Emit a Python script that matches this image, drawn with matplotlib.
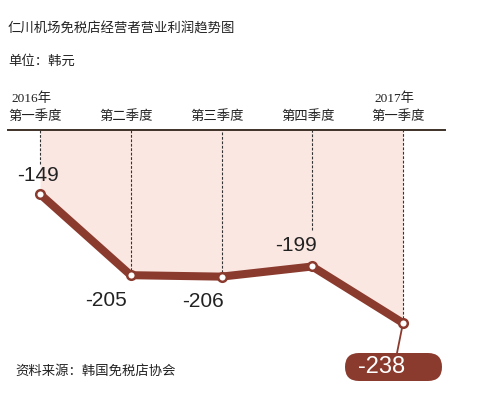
import matplotlib
matplotlib.use("Agg")
import matplotlib.pyplot as plt
from matplotlib.patches import FancyBboxPatch

plt.rcParams['font.family'] = ['Noto Sans CJK SC', 'DejaVu Sans']

# 数据
quarters = ["第一季度", "第二季度", "第三季度", "第四季度", "第一季度"]
years = {0: "2016年", 4: "2017年"}
profit = [-149, -205, -206, -199, -238]
value_labels = ["-149", "-205", "-206", "-199", "-238"]

line_color = "#8b3a2e"
fill_color = "#fbe7e1"
text_color = "#222222"

fig = plt.figure(figsize=(4.97, 3.94), dpi=100)
ax = fig.add_axes([0, 0, 1, 264 / 394])
xs = list(range(len(profit)))
ax.set_xlim(-0.4408, 5.0358)
ax.set_ylim(-287, -104.8)
ax.axis("off")

top = ax.get_ylim()[1]

# 浅色填充区域
ax.fill_between(xs, profit, top, color=fill_color, linewidth=0, zorder=1)

# 虚线 (标签在上方的点留出空白)
gaps = [21, 0, 0, 25, 0]
for x, v, g in zip(xs, profit, gaps):
    ax.plot([x, x], [v + g, top], color="#333333", linewidth=0.8,
            dashes=(2.5, 1.5), zorder=2)

# 顶部横线
ax.plot([8 / 497, 445 / 497], [1, 1], transform=ax.transAxes, color="#3d3128",
        linewidth=1.4, clip_on=False, zorder=3)

# 折线
ax.plot(xs, profit, color=line_color, linewidth=5.8, solid_capstyle="round",
        solid_joinstyle="round", zorder=4)
ax.plot(xs, profit, "o", markersize=6.2, markerfacecolor="white",
        markeredgecolor=line_color, markeredgewidth=1.8, zorder=5)

# 数值标签
offsets = [(-2, 19), (-25, -25), (-19, -25), (-16, 21)]
for x, v, lab, off in zip(xs[:4], profit[:4], value_labels[:4], offsets):
    ax.annotate(lab, xy=(x, v), xytext=off, textcoords="offset pixels",
                ha="center", va="center", fontsize=15, color=text_color,
                family=["Liberation Sans", "DejaVu Sans"], zorder=6)

# 最后一个值: 深红色圆角框
ax.annotate("", xy=(xs[4], profit[4]), xytext=(-6, -30), textcoords="offset pixels",
            arrowprops=dict(arrowstyle="-", color=line_color, lw=1.3,
                            shrinkA=0, shrinkB=0), zorder=3)
box = FancyBboxPatch((3.45, 0.13), 0.97, 0.28,
                     boxstyle="round,pad=0,rounding_size=0.14",
                     transform=fig.dpi_scale_trans, facecolor=line_color,
                     edgecolor="none", zorder=6)
fig.patches.append(box)
fig.text(3.815, 0.27, value_labels[4], transform=fig.dpi_scale_trans,
         ha="center", va="center", fontsize=17, color="white",
         family=["Liberation Sans", "DejaVu Sans"], zorder=7)

# 季度标签
xt = ax.get_xaxis_transform()
for x, q in zip(xs, quarters):
    ax.text(x - 0.05, 1.053, q, transform=xt, ha="center", va="center",
            fontsize=9.6, color=text_color, clip_on=False)
for x, y in years.items():
    ax.text(x - 0.09, 1.118, y, transform=xt, ha="center", va="center",
            fontsize=9.6, color=text_color, clip_on=False,
            family=["Liberation Serif", "Noto Sans CJK SC"])

# 标题与注释
fig.text(8 / 497, 1 - 29 / 394, "仁川机场免税店经营者营业利润趋势图", ha="left",
         va="center", fontsize=9.6, color=text_color)
fig.text(8 / 497, 1 - 61 / 394, "单位：韩元", ha="left", va="center",
         fontsize=9.6, color=text_color)
fig.text(15 / 497, 1 - 371 / 394, "资料来源：韩国免税店协会", ha="left", va="center",
         fontsize=9.6, color=text_color)

fig.savefig("out.png", dpi=100)
